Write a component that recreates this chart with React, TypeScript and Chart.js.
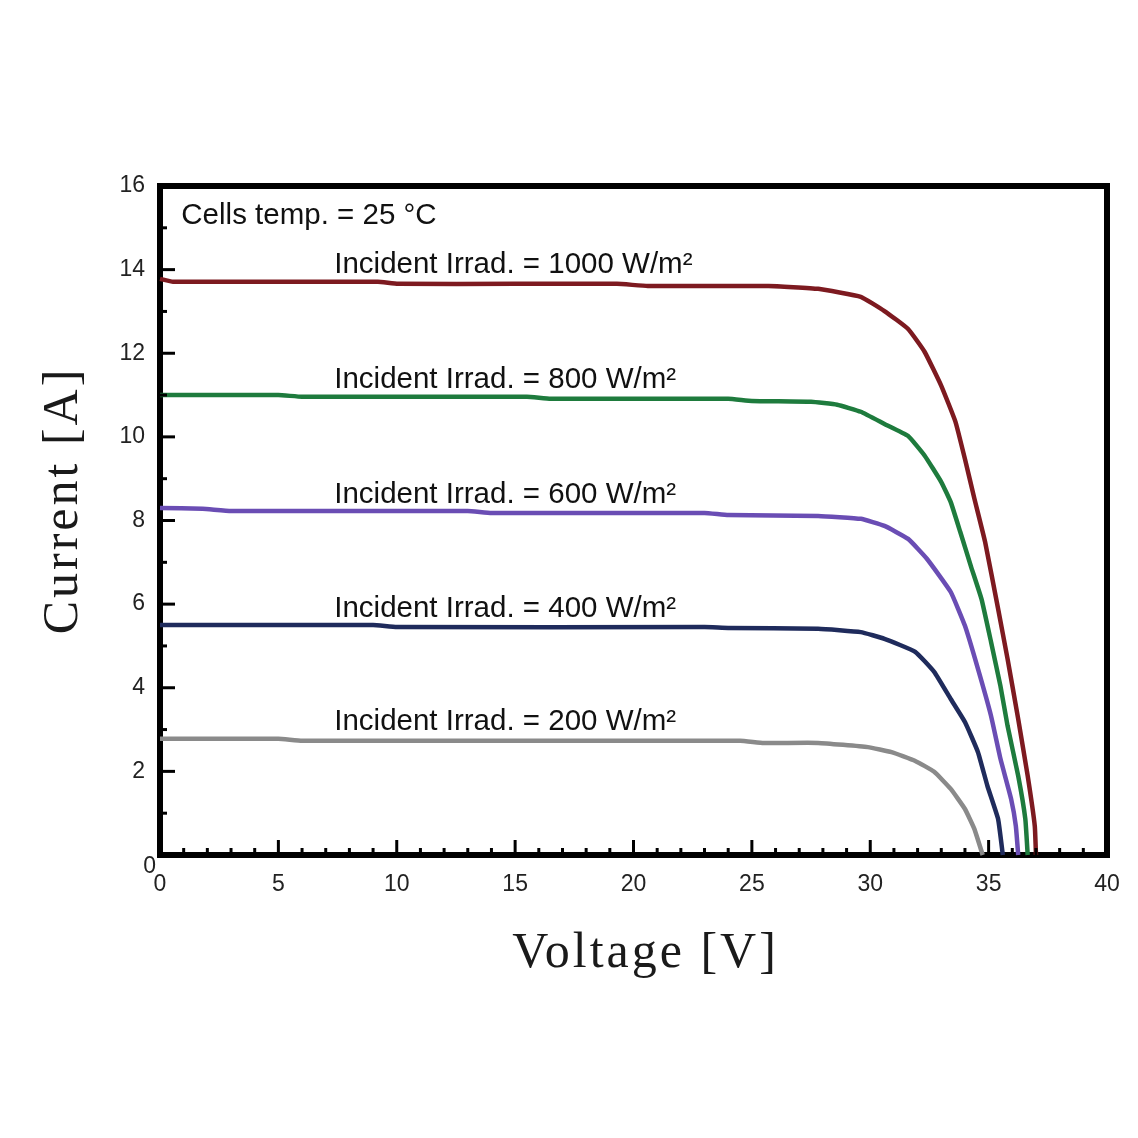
import React, { useEffect, useRef } from 'react';
import { Chart, registerables } from 'chart.js';

Chart.register(...registerables);

// ---- Data (Voltage [V] vs Current [A]) ----
const V1000 = [0, 0.55, 5, 9.2, 10.05, 15, 19.3, 20.6, 25.7, 27.8, 29.6, 30.6, 31.6, 32.3, 33.0, 33.6, 34.0, 34.4, 34.85, 35.4, 35.8, 36.25, 36.65, 36.95, 37.0];
const I1000 = [13.78, 13.71, 13.71, 13.71, 13.66, 13.66, 13.66, 13.61, 13.61, 13.54, 13.35, 13.01, 12.58, 12.03, 11.22, 10.36, 9.47, 8.52, 7.49, 5.89, 4.69, 3.25, 1.89, 0.69, 0];

const V800 = [0, 5, 6, 15.5, 16.5, 24, 25, 27.5, 28.6, 29.6, 30.6, 31.6, 32.3, 33.0, 33.4, 33.8, 34.25, 34.7, 35.1, 35.5, 35.8, 36.25, 36.55, 36.65];
const I800 = [11.0, 11.0, 10.96, 10.96, 10.91, 10.91, 10.86, 10.84, 10.77, 10.6, 10.31, 10.02, 9.55, 8.92, 8.44, 7.73, 6.91, 6.12, 5.10, 4.04, 3.09, 1.89, 0.86, 0];

const V600 = [0, 1.8, 3, 13, 14, 23, 24, 27.8, 29.6, 30.6, 31.6, 32.4, 33.4, 34.0, 34.55, 35.1, 35.5, 35.95, 36.15, 36.25];
const I600 = [8.30, 8.28, 8.23, 8.23, 8.18, 8.18, 8.13, 8.11, 8.04, 7.87, 7.56, 7.08, 6.29, 5.48, 4.45, 3.33, 2.30, 1.34, 0.69, 0];

const V400 = [0, 9, 10, 23, 24, 27.8, 29.6, 30.6, 31.9, 32.7, 33.4, 34.0, 34.55, 34.95, 35.4, 35.6];
const I400 = [5.50, 5.50, 5.45, 5.45, 5.43, 5.41, 5.33, 5.17, 4.86, 4.38, 3.73, 3.18, 2.46, 1.65, 0.86, 0];

const V200 = [0, 5, 6, 24.5, 25.5, 27.8, 29.9, 30.9, 31.9, 32.7, 33.4, 34.0, 34.4, 34.75];
const I200 = [2.78, 2.78, 2.73, 2.73, 2.68, 2.68, 2.58, 2.46, 2.25, 1.99, 1.58, 1.10, 0.62, 0];

const SERIES_LABELS = ['1000 W/m²', '800 W/m²', '600 W/m²', '400 W/m²', '200 W/m²'];
const SERIES_V = [V1000, V800, V600, V400, V200];
const SERIES_I = [I1000, I800, I600, I400, I200];
const SERIES_COLORS = ['#7d1a20', '#1e7b3d', '#6a4db4', '#1f2b5c', '#8a8a8a'];

const X_MIN = 0;
const X_MAX = 40;
const X_STEP = 5;
const Y_MIN = 0;
const Y_MAX = 16;
const Y_STEP = 2;

const X_TITLE = 'Voltage [V]';
const Y_TITLE = 'Current [A]';

// Annotations: text anchored at (voltage, current) in data units
const ANNOT_TEXT = [
  'Cells temp. = 25 °C',
  'Incident Irrad. = 1000 W/m²',
  'Incident Irrad. = 800 W/m²',
  'Incident Irrad. = 600 W/m²',
  'Incident Irrad. = 400 W/m²',
  'Incident Irrad. = 200 W/m²',
];
const ANNOT_V = [0.9, 7.36, 7.36, 7.36, 7.36, 7.36];
const ANNOT_I = [15.1, 13.93, 11.18, 8.42, 5.70, 2.99];

const SANS = '"Liberation Sans", Arial, sans-serif';
const SERIF = '"Liberation Serif", "Times New Roman", serif';

const decorPlugin = {
  id: 'decor',
  afterDatasetsDraw(chart: any) {
    const { ctx, chartArea } = chart;
    const xs = chart.scales.x;
    const ys = chart.scales.y;
    const { left, right, top, bottom } = chartArea;
    ctx.save();
    // inward ticks
    ctx.strokeStyle = '#000';
    ctx.lineWidth = 3;
    ctx.lineCap = 'butt';
    for (let v = X_MIN + 1; v < X_MAX; v++) {
      const px = xs.getPixelForValue(v);
      const len = v % X_STEP === 0 ? 15 : 7;
      ctx.beginPath();
      ctx.moveTo(px, bottom);
      ctx.lineTo(px, bottom - len);
      ctx.stroke();
    }
    for (let v = Y_MIN + 1; v < Y_MAX; v++) {
      const py = ys.getPixelForValue(v);
      const len = v % Y_STEP === 0 ? 15 : 7;
      ctx.beginPath();
      ctx.moveTo(left, py);
      ctx.lineTo(left + len, py);
      ctx.stroke();
    }
    // top and right frame
    ctx.lineWidth = 6;
    ctx.beginPath();
    ctx.moveTo(left - 3, top);
    ctx.lineTo(right, top);
    ctx.lineTo(right, bottom + 3);
    ctx.stroke();

    // annotations
    ctx.fillStyle = '#111';
    ctx.font = `29.5px ${SANS}`;
    ctx.textAlign = 'left';
    ctx.textBaseline = 'alphabetic';
    ANNOT_TEXT.forEach((t, i) => {
      ctx.fillText(t, xs.getPixelForValue(ANNOT_V[i]), ys.getPixelForValue(ANNOT_I[i]));
    });

    // y-axis "0" label (offset below origin, as in reference)
    ctx.font = `23px ${SANS}`;
    ctx.fillStyle = '#222';
    ctx.textAlign = 'right';
    ctx.textBaseline = 'middle';
    ctx.fillText(String(Y_MIN), left - 4, ys.getPixelForValue(Y_MIN) + 12);

    // axis titles
    ctx.fillStyle = '#1a1a1a';
    ctx.font = `50px ${SERIF}`;
    try { (ctx as any).letterSpacing = '3px'; } catch (e) {}
    ctx.textAlign = 'center';
    ctx.textBaseline = 'alphabetic';
    ctx.fillText(X_TITLE, (left + right) / 2 + 12, bottom + 112);
    ctx.translate(77, (top + bottom) / 2 - 20);
    ctx.rotate(-Math.PI / 2);
    ctx.fillText(Y_TITLE, 0, 0);
    try { (ctx as any).letterSpacing = '0px'; } catch (e) {}
    ctx.restore();
  },
};

export default function App() {
  const ref = useRef<HTMLCanvasElement | null>(null);
  useEffect(() => {
    if (!ref.current) return;
    const datasets = SERIES_LABELS.map((label, k) => ({
      label,
      data: SERIES_V[k].map((v, i) => ({ x: v, y: SERIES_I[k][i] })),
      borderColor: SERIES_COLORS[k],
      backgroundColor: SERIES_COLORS[k],
      borderWidth: 4.5,
      pointRadius: 0,
      tension: 0.12,
      fill: false,
      clip: false as any,
    }));
    const chart = new Chart(ref.current, {
      type: 'line',
      data: { datasets },
      options: {
        animation: false,
        responsive: false,
        maintainAspectRatio: false,
        layout: { padding: { top: 186, right: 31, left: 0, bottom: 0 } },
        plugins: { legend: { display: false }, tooltip: { enabled: false } },
        scales: {
          x: {
            type: 'linear',
            min: X_MIN,
            max: X_MAX,
            afterFit: (s: any) => { s.height = 1138 - 855; },
            ticks: {
              stepSize: X_STEP,
              padding: 16,
              color: '#222',
              font: { family: SANS, size: 23 },
              callback: (v: any) => String(v),
            },
            grid: { display: false, drawTicks: false },
            border: { display: true, color: '#000', width: 6 },
            title: { display: false, text: X_TITLE },
          },
          y: {
            type: 'linear',
            min: Y_MIN,
            max: Y_MAX,
            afterFit: (s: any) => { s.width = 160; },
            ticks: {
              stepSize: Y_STEP,
              padding: 15,
              color: '#222',
              font: { family: SANS, size: 23 },
              callback: (v: any) => (v === Y_MIN ? '' : String(v)),
            },
            grid: { display: false, drawTicks: false },
            border: { display: true, color: '#000', width: 6 },
            title: { display: false, text: Y_TITLE },
          },
        },
      },
      plugins: [decorPlugin],
    });
    return () => chart.destroy();
  }, []);
  return (
    <div style={{ position: 'absolute', left: 0, top: 0, width: 1138, height: 1138, background: '#fff' }}>
      <canvas ref={ref} width={1138} height={1138} style={{ width: 1138, height: 1138 }} />
    </div>
  );
}
